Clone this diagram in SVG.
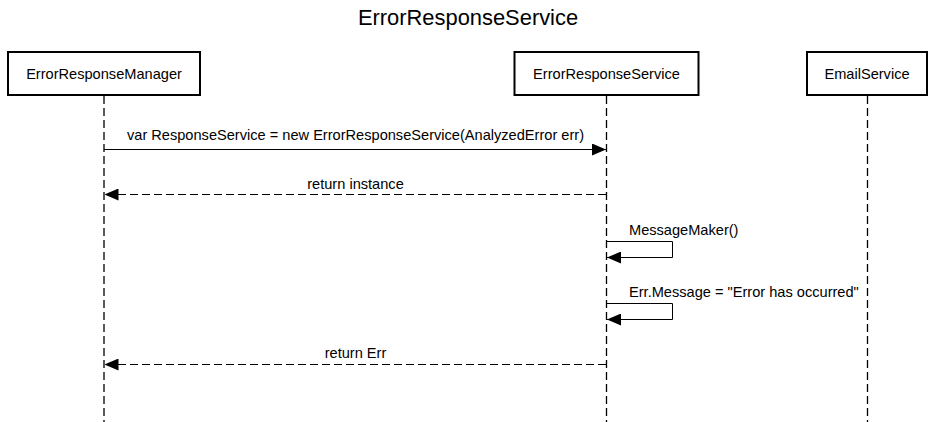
<svg xmlns="http://www.w3.org/2000/svg" width="936" height="422" viewBox="0 0 936 422">
<defs>
<style>
text{font-family:"Liberation Sans",Arial,sans-serif;fill:#000;}
.title{font-size:21.9px;text-anchor:middle;}
.box{fill:#fff;stroke:#000;stroke-width:2;}
.boxt{font-size:14.6px;text-anchor:middle;}
.life{stroke:#000;stroke-width:1.3;stroke-dasharray:8 4;fill:none;}
.msg{stroke:#000;stroke-width:1;fill:none;}
.ret{stroke:#000;stroke-width:1;fill:none;stroke-dasharray:8 4;}
.lbl{font-size:14.6px;}
.c{text-anchor:middle;}
</style>
<marker id="ah" viewBox="0 0 14 12" refX="14" refY="6" markerWidth="14" markerHeight="12" markerUnits="userSpaceOnUse" orient="auto">
<path d="M0,0 L14,6 L0,12 Z" fill="#000"/>
</marker>
</defs>
<rect width="936" height="422" fill="#fff"/>
<text class="title" x="468" y="25">ErrorResponseService</text>
<g id="lifelines">
<line class="life" x1="104" y1="96" x2="104" y2="422"/>
<line class="life" x1="606.5" y1="96" x2="606.5" y2="422"/>
<line class="life" x1="867.5" y1="96" x2="867.5" y2="422"/>
</g>
<g id="ErrorResponseManager">
<rect class="box" x="8" y="52" width="192" height="43"/>
<text class="boxt" x="104" y="79">ErrorResponseManager</text>
</g>
<g id="ErrorResponseService">
<rect class="box" x="514.5" y="52" width="184" height="43"/>
<text class="boxt" x="606.5" y="79">ErrorResponseService</text>
</g>
<g id="EmailService">
<rect class="box" x="807" y="52" width="120" height="43"/>
<text class="boxt" x="867" y="79">EmailService</text>
</g>
<g id="connectors">
<line class="msg" x1="104" y1="149.5" x2="606" y2="149.5" marker-end="url(#ah)"/>
<text class="lbl c" x="355.5" y="140">var ResponseService = new ErrorResponseService(AnalyzedError err)</text>
<line class="ret" x1="606" y1="194.5" x2="104.5" y2="194.5" marker-end="url(#ah)"/>
<text class="lbl c" x="355.5" y="189">return instance</text>
<polyline class="msg" points="606.5,241.5 672.5,241.5 672.5,257.5 607,257.5" marker-end="url(#ah)"/>
<text class="lbl" x="629" y="235">MessageMaker()</text>
<polyline class="msg" points="606.5,303.5 672.5,303.5 672.5,319.5 607,319.5" marker-end="url(#ah)"/>
<text class="lbl" x="629" y="297">Err.Message = "Error has occurred"</text>
<line class="ret" x1="606" y1="364.5" x2="104.5" y2="364.5" marker-end="url(#ah)"/>
<text class="lbl c" x="355.5" y="358">return Err</text>
</g>
</svg>
